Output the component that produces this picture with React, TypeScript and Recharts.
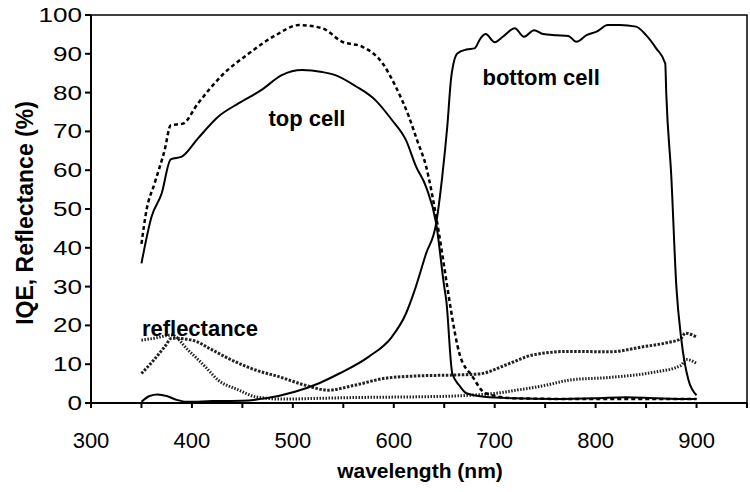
import { LineChart, Line, XAxis, YAxis, ReferenceArea, ReferenceDot } from 'recharts';

const xTicks = [300, 350, 400, 450, 500, 550, 600, 650, 700, 750, 800, 850, 900, 950];
const yTicks = [0, 10, 20, 30, 40, 50, 60, 70, 80, 90, 100];

// top cell, solid curve
const topSolidNm = [350, 360, 370, 379, 390, 406, 426, 446, 469, 489, 509, 529, 542, 562, 582, 598, 612, 622, 632, 642, 650, 652, 658, 665, 672, 690, 720, 760, 800, 830, 860, 890, 900];
const topSolidVal = [36, 48, 54, 62.8, 63.5, 68.2, 73.8, 77.2, 80.7, 84.5, 85.8, 85.3, 84.5, 81.7, 78, 73, 67.8, 61, 55.7, 46.3, 30, 26.5, 7.6, 4.5, 2.5, 1.6, 1.2, 1.0, 1.2, 1.5, 1.2, 1.0, 1.0];

// top cell, dotted curve
const topDotNm = [350, 355, 363, 373, 379, 391, 406, 430, 456, 483, 506, 529, 549, 569, 589, 602, 615, 623, 632, 642, 653, 656, 665, 678, 691, 720, 800, 900];
const topDotVal = [41, 49.7, 56.6, 65.2, 71.6, 72, 77.2, 84.5, 90, 94.8, 97.4, 96.6, 93.1, 91.8, 87.5, 81.5, 73.8, 67.8, 61, 48, 30, 25, 12.8, 6.8, 2.5, 1.2, 1, 1];

// bottom cell
const bottomNm = [350, 358, 366, 375, 385, 395, 420, 450, 473, 502, 526, 546, 575, 598, 612, 620, 632, 642, 648, 653, 657, 663, 672, 680, 686, 691, 700, 708, 720, 729, 739, 748, 761, 773, 781, 791, 801, 812, 824, 840, 850, 860, 869, 870, 875, 880, 885, 892, 900];
const bottomVal = [0.3, 1.8, 2.2, 1.8, 0.8, 0.3, 0.5, 0.6, 1.2, 2.9, 5.1, 7.6, 11.9, 17, 23, 28.5, 38.5, 46.3, 58.3, 71.2, 84.1, 90.1, 91.1, 91.4, 94, 95.1, 93, 94.4, 96.6, 94.4, 96.1, 95.1, 94.8, 94.6, 93.1, 94.8, 95.7, 97.4, 97.4, 97, 94.8, 91.4, 87.5, 79.8, 58.3, 30, 16.2, 5.9, 2];

// reflectance, curve ending high
const reflANm = [350, 362, 373, 380, 400, 420, 436, 463, 486, 512, 535, 560, 592, 625, 658, 685, 711, 738, 774, 814, 847, 870, 884, 889, 900];
const reflAVal = [7.6, 11, 14.5, 16.7, 16.2, 13.7, 11.5, 8.5, 6.8, 4.6, 3.3, 4.5, 6.4, 7, 7.2, 7.5, 9.8, 12.4, 13.3, 13.2, 14.5, 15.5, 16.5, 18, 17];

// reflectance, curve ending low
const reflBNm = [350, 363, 380, 396, 413, 426, 446, 463, 490, 525, 560, 625, 660, 675, 701, 724, 751, 774, 814, 857, 884, 890, 900];
const reflBVal = [16.2, 16.7, 17.5, 13.7, 9.4, 5.9, 3.4, 1.6, 1.0, 1.2, 1.4, 1.6, 1.8, 2.0, 2.5, 3.4, 4.6, 5.9, 6.6, 7.9, 9.6, 11.2, 10.2];

const zip = (nm: number[], val: number[]) => nm.map((x, i) => ({ nm: x, v: val[i] }));

const topSolid = zip(topSolidNm, topSolidVal);
const topDot = zip(topDotNm, topDotVal);
const bottom = zip(bottomNm, bottomVal);
const reflA = zip(reflANm, reflAVal);
const reflB = zip(reflBNm, reflBVal);

const FONT = '"Liberation Sans", Arial, sans-serif';

const XTick = (props: any) => {
  const { x, y, payload } = props;
  if (payload.value % 100 !== 0 || payload.value > 900) return <g />;
  return (
    <text x={x} y={y + 38} textAnchor="middle" fontSize={22} fontFamily={FONT} fill="#000">
      {payload.value}
    </text>
  );
};

const YTick = (props: any) => {
  const { x, y, payload } = props;
  const s = String(payload.value);
  return (
    <text x={x} y={y + 7} textAnchor="end" fontSize={20} fontFamily={FONT} fill="#000"
      textLength={s.length * 14.5} lengthAdjust="spacingAndGlyphs">
      {s}
    </text>
  );
};

const noteStyle = { fontSize: 22, fontWeight: 'bold', fontFamily: FONT, fill: '#000' };

export default function App() {
  return (
    <div style={{ position: 'absolute', left: 0, top: 0, background: '#fff' }}>
      <LineChart width={750} height={492} margin={{ top: 15, right: 3, left: 0, bottom: 0 }}>
        <ReferenceArea x1={300} x2={950} y1={0} y2={100} fill="none" stroke="#000" strokeWidth={1.5} />
        <XAxis
          dataKey="nm"
          type="number"
          domain={[300, 950]}
          ticks={xTicks}
          interval={0}
          height={89}
          allowDataOverflow
          stroke="#000"
          strokeWidth={2}
          tickSize={5}
          tick={<XTick />}
          label={{
            content: () => (
              <text x={420} y={478} textAnchor="middle" fontSize={21} fontWeight="bold" fontFamily={FONT} fill="#000">
                wavelength (nm)
              </text>
            ),
          }}
        />
        <YAxis
          type="number"
          domain={[0, 100]}
          ticks={yTicks}
          interval={0}
          width={91}
          stroke="#000"
          strokeWidth={2}
          tickSize={6}
          tickMargin={3}
          tick={<YTick />}
          label={{
            content: () => (
              <text transform="translate(33,213) rotate(-90)" textAnchor="middle" fontSize={23} fontWeight="bold" fontFamily={FONT} fill="#000">
                IQE, Reflectance (%)
              </text>
            ),
          }}
        />
        <Line data={reflB} dataKey="v" type="monotone" stroke="#222" strokeWidth={3} strokeDasharray="1.5 1.5" dot={false} isAnimationActive={false} />
        <Line data={reflA} dataKey="v" type="monotone" stroke="#222" strokeWidth={3} strokeDasharray="2.5 1.5" dot={false} isAnimationActive={false} />
        <Line data={bottom} dataKey="v" type="monotone" stroke="#000" strokeWidth={2} dot={false} isAnimationActive={false} />
        <Line data={topSolid} dataKey="v" type="monotone" stroke="#000" strokeWidth={2} dot={false} isAnimationActive={false} />
        <Line data={topDot} dataKey="v" type="monotone" stroke="#000" strokeWidth={2.5} strokeDasharray="4 3" dot={false} isAnimationActive={false} />
        <ReferenceDot x={514} y={73.5} r={0} fill="none" stroke="none" label={{ value: 'top cell', position: 'center', ...noteStyle }} />
        <ReferenceDot x={746} y={84.1} r={0} fill="none" stroke="none" label={{ value: 'bottom cell', position: 'center', ...noteStyle }} />
        <ReferenceDot x={408} y={19.2} r={0} fill="none" stroke="none" label={{ value: 'reflectance', position: 'center', ...noteStyle }} />
      </LineChart>
    </div>
  );
}
